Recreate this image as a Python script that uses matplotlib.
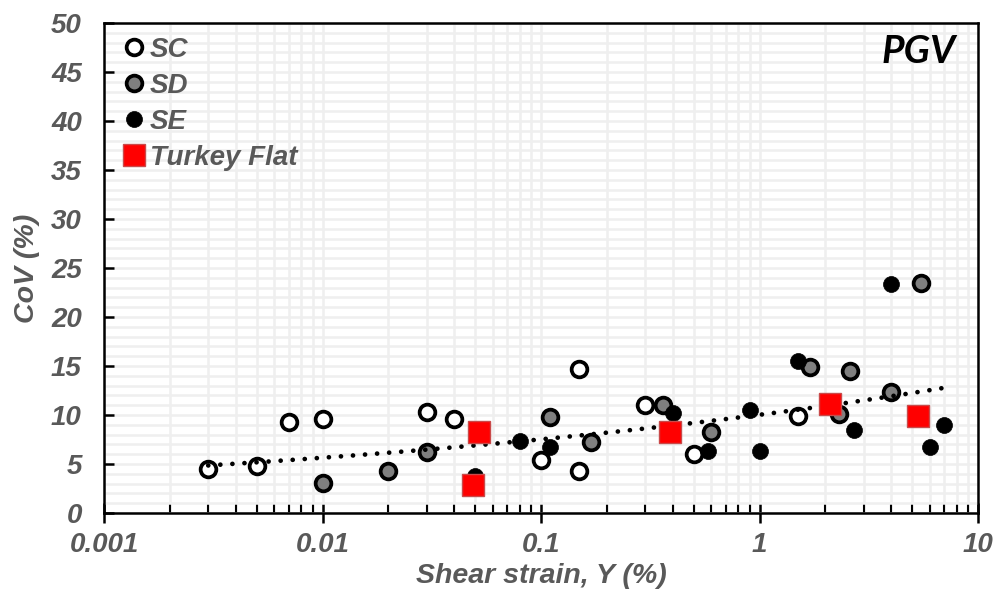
import numpy as np
import matplotlib
matplotlib.use("Agg")
import matplotlib.pyplot as plt
from matplotlib.ticker import LogLocator, MultipleLocator, FixedLocator, NullFormatter

plt.rcParams['font.family'] = ['Liberation Sans', 'DejaVu Sans']

# Shear strain (%) and coefficient of variation (%) per site class
sc_x = [0.003, 0.005, 0.007, 0.01, 0.03, 0.04, 0.1, 0.15, 0.15, 0.3, 0.5, 1.5]
sc_y = [4.5, 4.8, 9.25, 9.6, 10.3, 9.55, 5.4, 14.65, 4.3, 11.0, 6.0, 9.9]

sd_x = [0.01, 0.02, 0.03, 0.11, 0.17, 0.36, 0.6, 1.7, 2.3, 2.6, 4.0, 5.5]
sd_y = [3.1, 4.3, 6.25, 9.8, 7.2, 11.0, 8.3, 14.9, 10.1, 14.5, 12.3, 23.5]

se_x = [0.05, 0.08, 0.11, 0.4, 0.58, 0.9, 1.0, 1.5, 2.7, 4.0, 6.0, 7.0]
se_y = [3.8, 7.35, 6.7, 10.2, 6.3, 10.5, 6.3, 15.5, 8.5, 23.4, 6.7, 9.0]

tf_x = [0.049, 0.052, 0.39, 2.1, 5.3]
tf_y = [2.9, 8.3, 8.3, 11.1, 9.85]

x_ticks = [0.001, 0.01, 0.1, 1, 10]
x_tick_labels = ["0.001", "0.01", "0.1", "1", "10"]
y_ticks = list(range(0, 51, 5))

GRAY = '#595959'
tick_font = dict(fontsize=20, fontweight='bold', fontstyle='italic', color=GRAY)

fig = plt.figure(figsize=(9.99, 5.94), dpi=100)
ax = fig.add_axes([0.1041, 0.1364, 0.979 - 0.1041, 0.9613 - 0.1364])

# Power-law trend fitted to the three site classes
all_x = np.array(sc_x + sd_x + se_x)
all_y = np.array(sc_y + sd_y + se_y)
b, ln_a = np.polyfit(np.log(all_x), np.log(all_y), 1)
xt = np.logspace(np.log10(all_x.min()), np.log10(all_x.max()), 200)
yt = np.exp(ln_a) * xt ** b

ax.plot(sc_x, sc_y, 'o', ms=11.3, mfc='white', mec='black', mew=2.7, ls='none', label='SC', zorder=3)
ax.plot(sd_x, sd_y, 'o', ms=11.3, mfc='#7f7f7f', mec='black', mew=2.7, ls='none', label='SD', zorder=3)
ax.plot(se_x, se_y, 'o', ms=11.5, mfc='black', mec='black', mew=0.5, ls='none', label='SE', zorder=3)
ax.plot(tf_x, tf_y, 's', ms=16, mfc='#ff0000', mec='#c94a4a', mew=1.0, ls='none', label='Turkey Flat', zorder=5)
ax.plot(xt, yt, color='black', lw=3.4, ls=(0, (0.01, 2.55)), dash_capstyle='round', zorder=4)

ax.set_xscale('log')
ax.set_xlim(0.001, 10)
ax.set_ylim(0, 50)

ax.xaxis.set_major_locator(FixedLocator(x_ticks))
ax.set_xticklabels(x_tick_labels, **tick_font)
ax.xaxis.set_minor_locator(LogLocator(base=10, subs=np.arange(2, 10)))
ax.xaxis.set_minor_formatter(NullFormatter())
ax.set_yticks(y_ticks)
ax.set_yticklabels([str(v) for v in y_ticks], **tick_font)
ax.yaxis.set_minor_locator(MultipleLocator(1))

ax.grid(True, which='both', color='#efefef', lw=1.8, zorder=0)
ax.set_axisbelow(True)

ax.tick_params(axis='x', which='major', direction='inout', length=14, width=1.8, pad=7)
ax.tick_params(axis='x', which='minor', direction='in', length=7, width=1.5)
ax.tick_params(axis='y', which='major', direction='in', length=7, width=1.8, pad=16)
ax.tick_params(axis='y', which='minor', length=0)

for s in ax.spines.values():
    s.set_linewidth(1.8)
    s.set_color('black')

ax.set_xlabel('Shear strain, Y (%)', fontsize=20.5, fontweight='bold', fontstyle='italic',
              color=GRAY, labelpad=3)
ax.set_ylabel('CoV (%)', fontsize=20.5, fontweight='bold', fontstyle='italic',
              color=GRAY, labelpad=8)

ax.text(0.974, 0.978, 'PGV', transform=ax.transAxes, ha='right', va='top',
        fontsize=28, fontweight='bold', fontstyle='italic', color='black',
        family=['Lato', 'Open Sans', 'DejaVu Sans'])

leg = ax.legend(loc='upper left', bbox_to_anchor=(0.004, 1.008), frameon=False,
                handlelength=0.6, handletextpad=0.28,
                labelspacing=0.36, borderaxespad=0.2, borderpad=0.45,
                prop=dict(family='Liberation Sans', size=20, weight='bold', style='italic'),
                labelcolor=GRAY)

fig.savefig('out.png', dpi=100)
